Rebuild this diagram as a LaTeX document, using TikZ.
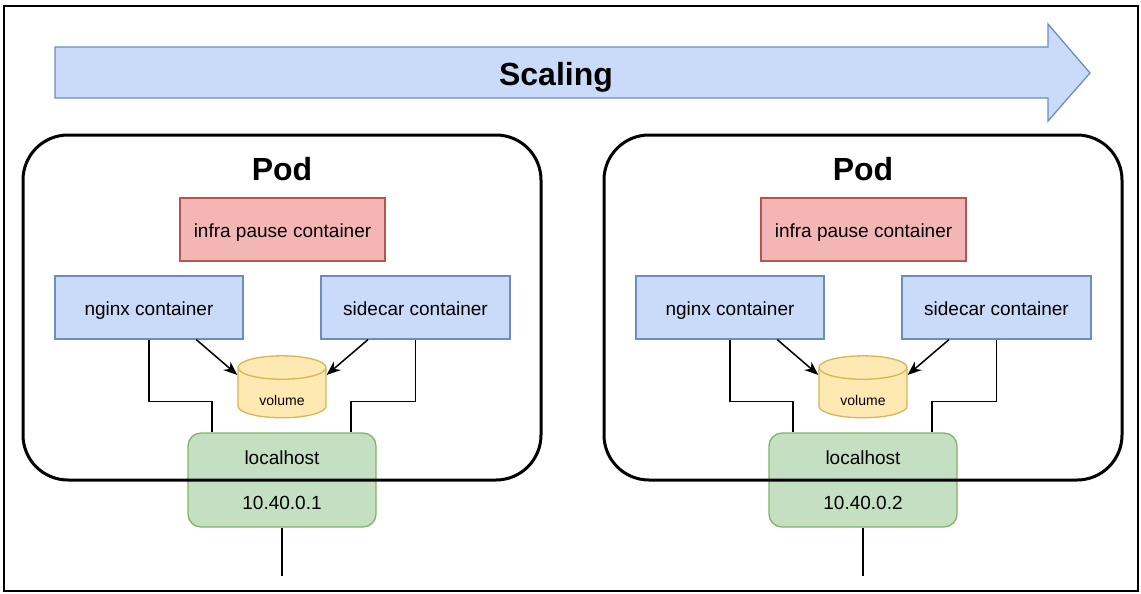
\documentclass[tikz,border=0pt]{standalone}
\usepackage{fontspec}
\setmainfont{Liberation Sans}
\usetikzlibrary{arrows.meta,calc,positioning,shapes.geometric}

\definecolor{blueFill}{RGB}{201,219,248}
\definecolor{blueLine}{RGB}{108,142,191}
\definecolor{redFill}{RGB}{244,182,181}
\definecolor{redLine}{RGB}{184,84,80}
\definecolor{greenFill}{RGB}{196,223,194}
\definecolor{greenLine}{RGB}{130,179,102}
\definecolor{yellowFill}{RGB}{255,233,178}
\definecolor{yellowLine}{RGB}{214,182,86}

\tikzset{
  ctr/.style={draw=blueLine, fill=blueFill, line width=1.3pt, minimum height=63,
    text height=16, text depth=1},
  pause/.style={draw=redLine, fill=redFill, line width=1.3pt, minimum width=205, minimum height=63,
    text height=16, text depth=1},
  host/.style={draw=greenLine, fill=greenFill, line width=1.3pt, rounded corners=13,
    minimum width=188, minimum height=94, align=center},
  vol/.style={cylinder, shape border rotate=90, aspect=0.52, draw=yellowLine, fill=yellowFill,
    line width=1.3pt, minimum width=88, minimum height=62, inner sep=0pt,
    text height=24, text depth=0, font=\fontsize{14}{16}\selectfont},
  podbox/.style={draw, line width=3pt, rounded corners=45, minimum width=518, minimum height=345},
  title/.style={anchor=base, font=\fontsize{32}{36}\selectfont\bfseries},
  conn/.style={line width=1.5pt}
}

\begin{document}
\begin{tikzpicture}[x=1pt, y=-1pt, >={Stealth[length=14pt,width=11pt]},
    font=\fontsize{19}{23}\selectfont]
  \useasboundingbox (0,0) rectangle (1141,594);
  \draw[line width=2pt] (4,6) rectangle (1138,591);

  % Scaling arrow
  \draw[draw=blueLine, fill=blueFill, line width=1.3pt] (55,47) -- (1048,47) -- (1048,24)
    -- (1090,73) -- (1048,121) -- (1048,98) -- (55,98) -- cycle;
  \node[title] (scaling) at (556,85) {Scaling};

  \foreach \i/\dx/\ip in {1/0/10.40.0.1, 2/581/10.40.0.2} {
    \begin{scope}[xshift=\dx]
      \node[title] (podtitle\i) at (282,180) {Pod};
      \node[pause] (infra\i) at (282.5,229.5) {infra pause container};
      \node[ctr, minimum width=188] (nginx\i) at (149,307.5) {nginx container};
      \node[ctr, minimum width=189] (sidecar\i) at (415.5,307.5) {sidecar container};
      \node[vol] (vol\i) at (282,393) {volume};
      \node[host] (local\i) at (282,480) {localhost\\[22pt]\ip};
      % pod outline goes over the localhost box
      \node[podbox] (pod\i) at (282,307.5) {};

      \draw[conn,->] ($(nginx\i.south)!0.5!(nginx\i.south east)$) -- (vol\i.158);
      \draw[conn,->] ($(sidecar\i.south)!0.5!(sidecar\i.south west)$) -- (vol\i.22);

      \coordinate (jl\i) at ($(local\i.north)+(-70,-31)$);
      \coordinate (jr\i) at ($(local\i.north)+(69,-31)$);
      \draw[conn] (nginx\i.south) |- (jl\i) -- (jl\i |- local\i.north);
      \draw[conn] (sidecar\i.south) |- (jr\i) -- (jr\i |- local\i.north);

      \coordinate (net\i) at ($(local\i.south)+(0,48)$);
      \draw[conn] (local\i.south) -- (net\i);
    \end{scope}
  }
\end{tikzpicture}
\end{document}
